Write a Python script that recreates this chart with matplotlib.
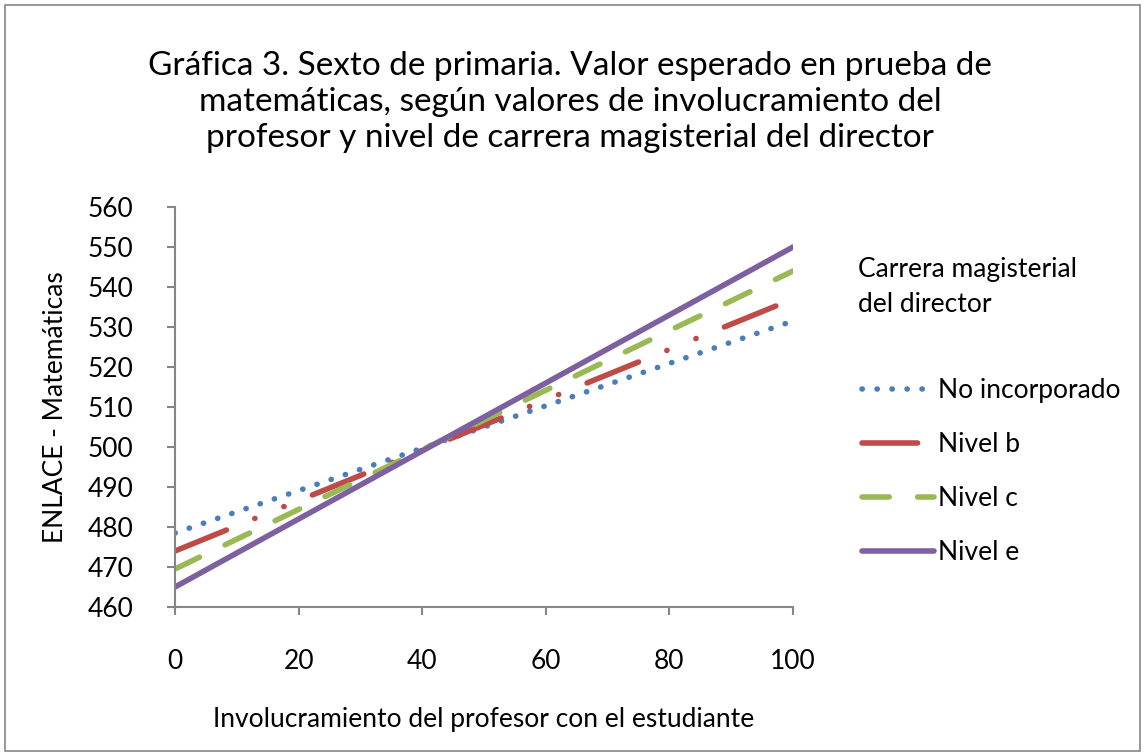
import matplotlib.pyplot as plt
from matplotlib.patches import Rectangle

# data (values at x = 0 and x = 100)
involucramiento = [0, 100]
no_incorporado = [478.5, 531.5]
nivel_b = [474.0, 537.0]
nivel_c = [469.5, 544.0]
nivel_e = [465.0, 550.0]

series_labels = ["No incorporado", "Nivel b", "Nivel c", "Nivel e"]
y_ticks = list(range(460, 561, 10))
x_ticks = [0, 20, 40, 60, 80, 100]

plt.rcParams['font.family'] = ['Lato', 'DejaVu Sans']

fig = plt.figure(figsize=(11.45, 7.54), dpi=100)
ax = fig.add_axes([175 / 1145, 1 - 607 / 754, (793 - 175) / 1145, (607 - 207) / 754])

lw = 4.0
l1, = ax.plot(involucramiento, no_incorporado, color='#4a7ebb', lw=lw,
              dashes=(0.05, 2.65), dash_capstyle='round', label=series_labels[0])
l2, = ax.plot(involucramiento, nivel_b, color='#be4b48', lw=lw,
              dashes=(10, 5.5, 0.05, 5.6, 0.05, 5.5), dash_capstyle='round',
              label=series_labels[1])
l3, = ax.plot(involucramiento, nivel_c, color='#98b954', lw=lw,
              dashes=(4.9, 5.1), dash_capstyle='round', label=series_labels[2])
l4, = ax.plot(involucramiento, nivel_e, color='#7d60a0', lw=lw,
              solid_capstyle='round', label=series_labels[3])

ax.set_xlim(0, 100)
ax.set_ylim(460, 560)
ax.set_xticks(x_ticks)
ax.set_yticks(y_ticks)
for s in ['top', 'right']:
    ax.spines[s].set_visible(False)
for s in ['left', 'bottom']:
    ax.spines[s].set_color('#868686')
    ax.spines[s].set_linewidth(1.5)
ax.tick_params(axis='both', colors='#868686', width=1.5, length=6,
               labelsize=19, labelcolor='black')
ax.tick_params(axis='x', pad=24)
ax.tick_params(axis='y', pad=24)

ax.set_xlabel("Involucramiento del profesor con el estudiante", fontsize=19, labelpad=24)
ax.set_ylabel("ENLACE - Matemáticas", fontsize=19, labelpad=14)

fig.text(570 / 1145, 1 - 102 / 754,
         "Gráfica 3. Sexto de primaria. Valor esperado en prueba de\n"
         "matemáticas, según valores de involucramiento del\n"
         "profesor y nivel de carrera magisterial del director",
         ha='center', va='center', fontsize=24, linespacing=1.27)

fig.text(858 / 1145, 1 - 287 / 754, "Carrera magisterial\ndel director",
         ha='left', va='center', fontsize=19, linespacing=1.5)

fig.legend(handles=[l1, l2, l3, l4], loc='upper left',
           bbox_to_anchor=(838 / 1145, 1 - 354 / 754), frameon=False,
           fontsize=19, handlelength=2.75, handletextpad=0.15, labelspacing=1.1)

fig.add_artist(Rectangle((0.004, 0.004), 0.992, 0.99, transform=fig.transFigure,
                         fill=False, edgecolor='#868686', lw=1.2))

fig.savefig("out.png", dpi=100)
